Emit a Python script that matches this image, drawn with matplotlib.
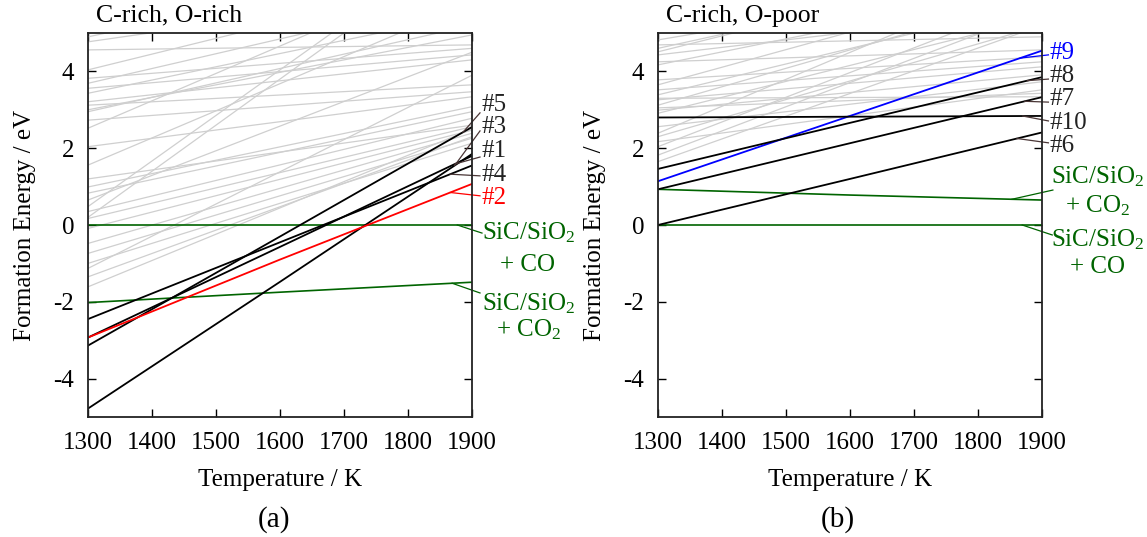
import numpy as np
import matplotlib.pyplot as plt

plt.rcParams['font.family'] = ['Liberation Serif']
plt.rcParams['mathtext.fontset'] = 'custom'
plt.rcParams['mathtext.rm'] = 'Liberation Serif'
plt.rcParams['mathtext.it'] = 'Liberation Serif:italic'
plt.rcParams['axes.unicode_minus'] = False

T_ends = [1300, 1900]
T_pts = [1300, 1600, 1900]

# ---- panel (a): C-rich, O-rich ----
gray_a_start = [4.90, 4.77, 4.56, 4.04, 3.82, 3.69, 3.56, 3.43, 3.21, 3.12, 2.95, 2.73,
                2.52, 2.04, 1.56, 0.99, 0.83, 0.65, 0.48, 0.35, 0.17, -0.09, 0.20,
                -0.48, -0.74, -1.00, -1.13, -1.35, -1.61, 3.00, 1.20]
gray_a_end = [7.0, 6.2, 4.69, 6.5, 4.60, 6.0, 4.43, 5.5, 4.30, 3.65, 5.2, 3.47,
              6.8, 3.34, 5.8, 3.08, 2.95, 4.5, 7.6, 2.78, 2.56, 2.47, 7.4,
              2.39, 2.26, 2.13, 3.9, 2.30, 2.50, 4.95, 2.60]

def_a_names = ['#5', '#3', '#1', '#4', '#2']
def_a_vals = [[-3.14, -0.30, 2.55],
              [-4.78, -1.48, 1.85],
              [-2.93, -0.57, 1.80],
              [-2.45, -0.45, 1.55],
              [-2.93, -0.90, 1.07]]
def_a_colors = ['black', 'black', 'black', 'black', 'red']

ref_a_co = [0.0, 0.0, 0.0]
ref_a_co2 = [-2.02, -1.75, -1.49]

# ---- panel (b): C-rich, O-poor ----
gray_b_start = [4.82, 4.69, 4.51, 4.43, 4.25, 4.17, 3.78, 3.65, 3.52, 3.39, 3.26, 3.12,
                2.99, 2.91, 2.56, 2.39, 2.30, 2.17, 2.04, 1.82, 1.65, 3.05, 3.30, 4.60]
gray_b_end = [6.5, 4.9, 7.0, 5.6, 4.56, 6.2, 4.38, 6.4, 4.25, 5.8, 4.12, 6.0,
              3.91, 5.4, 3.73, 6.6, 5.2, 3.52, 5.9, 5.6, 5.2, 3.43, 3.34, 6.8]

def_b_names = ['#9', '#8', '#7', '#10', '#6']
def_b_vals = [[1.14, 2.84, 4.54],
              [1.46, 2.66, 3.85],
              [0.93, 2.13, 3.33],
              [2.80, 2.82, 2.84],
              [0.00, 1.20, 2.41]]
def_b_colors = ['blue', 'black', 'black', 'black', 'black']

ref_b_co = [0.0, 0.0, 0.0]
ref_b_co2 = [0.93, 0.78, 0.65]

green = '#006400'
leader = '#4a3636'
fs = 18


def setup_axes(ax, title):
    ax.set_xlim(1300, 1900)
    ax.set_ylim(-5, 5)
    ax.set_xticks([1300, 1400, 1500, 1600, 1700, 1800, 1900])
    ax.set_yticks([-4, -2, 0, 2, 4])
    ax.tick_params(direction='in', top=True, right=True, length=6, width=1,
                   labelsize=fs)
    ax.tick_params(axis='x', pad=11)
    ax.tick_params(axis='y', pad=10)
    for s in ax.spines.values():
        s.set_linewidth(1.3)
        s.set_color('#222222')
    ax.set_xlabel('Temperature / K', fontsize=fs)
    ax.set_ylabel('Formation Energy / eV', fontsize=fs)
    ax.xaxis.set_label_coords(0.5, -0.135)
    ax.yaxis.set_label_coords(-0.135, 0.5)
    ax.text(0.022, 1.045, title, transform=ax.transAxes, fontsize=18.5,
            ha='left', va='center')


def leader_line(ax, T_line, vals, T_txt, E_txt, color):
    E_line = np.interp(T_line, T_pts, vals)
    ax.plot([T_txt, T_line], [E_txt, E_line], color=color, lw=0.9, clip_on=False)


fig = plt.figure(figsize=(11.47, 5.37), dpi=100)
ax1 = fig.add_axes([88 / 1147, 120 / 537, 384 / 1147, 384 / 537])
ax2 = fig.add_axes([658 / 1147, 120 / 537, 384 / 1147, 384 / 537])

# panel (a)
for s, e in zip(gray_a_start, gray_a_end):
    ax1.plot(T_ends, [s, e], color='#cfcfcf', lw=0.9)
ax1.plot(T_pts, ref_a_co, color=green, lw=1.2)
ax1.plot(T_pts, ref_a_co2, color=green, lw=1.2)
for v, c in zip(def_a_vals, def_a_colors):
    ax1.plot(T_pts, v, color=c, lw=1.3)

label_a_y = [3.13, 2.56, 1.93, 1.30, 0.70]
lead_a_T = [1886, 1873, 1873, 1866, 1866]
lead_a_txt = [2.92, 2.45, 1.77, 1.28, 0.76]
for name, v, c, ly, lt, le in zip(def_a_names, def_a_vals, def_a_colors,
                                  label_a_y, lead_a_T, lead_a_txt):
    lc = 'red' if c == 'red' else leader
    ax1.text(1915, ly, name, color=c if c != 'black' else '#222222',
             fontsize=fs, ha='left', va='center', clip_on=False)
    leader_line(ax1, lt, v, 1912.5, le, lc)

ax1.text(1915, -0.21, 'SiC/SiO$_2$', color=green, fontsize=fs, ha='left', va='center')
ax1.text(1986, -1.04, '+ CO', color=green, fontsize=fs, ha='center', va='center')
leader_line(ax1, 1877, ref_a_co, 1915.6, -0.21, green)
ax1.text(1915, -2.04, 'SiC/SiO$_2$', color=green, fontsize=fs, ha='left', va='center')
ax1.text(1989, -2.73, '+ CO$_2$', color=green, fontsize=fs, ha='center', va='center')
leader_line(ax1, 1869, ref_a_co2, 1912.5, -1.77, green)

setup_axes(ax1, 'C-rich, O-rich')

# panel (b)
for s, e in zip(gray_b_start, gray_b_end):
    ax2.plot(T_ends, [s, e], color='#cfcfcf', lw=0.9)
ax2.plot(T_pts, ref_b_co, color=green, lw=1.2)
ax2.plot(T_pts, ref_b_co2, color=green, lw=1.2)
for v, c in zip(def_b_vals, def_b_colors):
    ax2.plot(T_pts, v, color=c, lw=1.3)

label_b_y = [4.48, 3.88, 3.28, 2.66, 2.06]
lead_b_T = [1866, 1877, 1873, 1870, 1861]
lead_b_txt = [4.43, 3.80, 3.20, 2.71, 2.14]
for name, v, c, ly, lt, le in zip(def_b_names, def_b_vals, def_b_colors,
                                  label_b_y, lead_b_T, lead_b_txt):
    lc = 'blue' if c == 'blue' else leader
    ax2.text(1912, ly, name, color=c if c != 'black' else '#222222',
             fontsize=fs, ha='left', va='center', clip_on=False)
    leader_line(ax2, lt, v, 1910, le, lc)

ax2.text(1914, 1.25, 'SiC/SiO$_2$', color=green, fontsize=fs, ha='left', va='center')
ax2.text(1986, 0.49, '+ CO$_2$', color=green, fontsize=fs, ha='center', va='center')
leader_line(ax2, 1853, ref_b_co2, 1917, 0.91, green)
ax2.text(1914, -0.39, 'SiC/SiO$_2$', color=green, fontsize=fs, ha='left', va='center')
ax2.text(1986, -1.09, '+ CO', color=green, fontsize=fs, ha='center', va='center')
leader_line(ax2, 1869, ref_b_co, 1916, -0.26, green)

setup_axes(ax2, 'C-rich, O-poor')

fig.text(274 / 1147, 1 - 520 / 537, '(a)', fontsize=21, ha='center', va='center')
fig.text(838 / 1147, 1 - 520 / 537, '(b)', fontsize=21, ha='center', va='center')

fig.savefig('out.png', dpi=100)
